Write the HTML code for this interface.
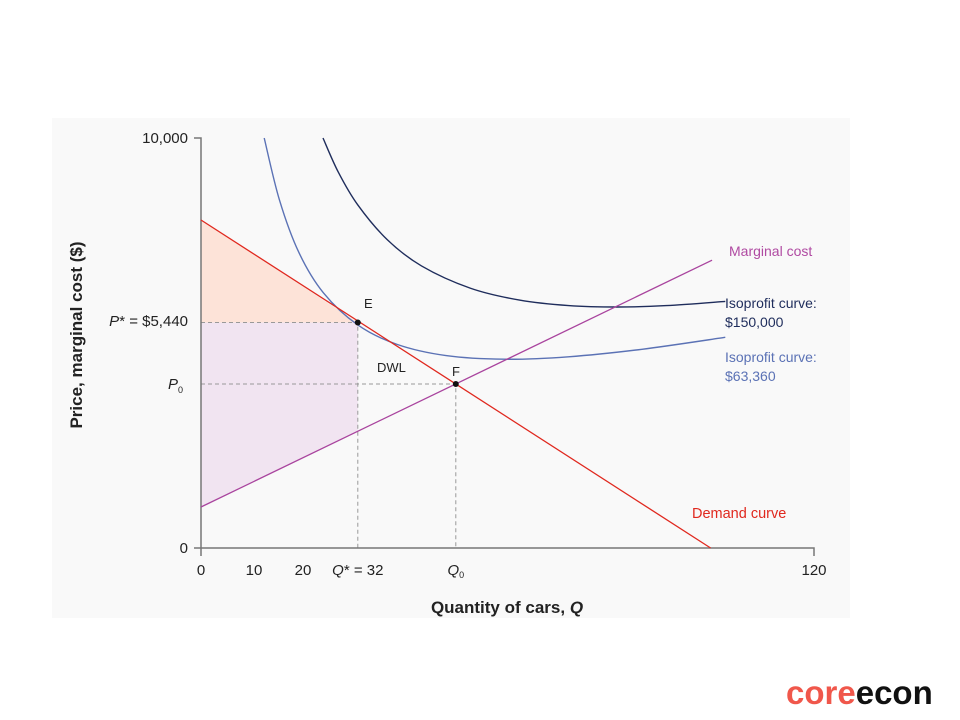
<!DOCTYPE html>
<html><head><meta charset="utf-8"><style>
body{margin:0;background:#fff;width:960px;height:720px;overflow:hidden;font-family:"Liberation Sans",sans-serif}
svg{position:absolute;left:0;top:0}
text{font-family:"Liberation Sans",sans-serif}
</style></head><body>
<svg id="chart" width="960" height="720">
<rect x="52" y="118" width="798" height="500" fill="#f9f9f9"/>
</svg>
<script>
const qTicks=[0,10,20];
const qTickLabels=["0","10","20"];
const demandQ=[0,104];
const demandP=[8000,0];
const mcQ=[0,104.3];
const mcP=[1000,7020];
const iso1Q=[12.9,16,20,25,32,40,50,62,75,90,107];
const iso1P=[10000,8493,7202,6221,5440,4966,4693,4604,4664,4847,5138];
const iso2Q=[24.9,28,32,38,45,55,65,75,85,95,107];
const iso2P=[10000,9172,8367,7522,6880,6336,6047,5913,5878,5912,6014];
const pointE=[32,5500];
const pointF=[52,4000];
const mcAtQstar=2846;

const X=q=>201+q*4.9;
const Y=p=>548-p*0.041;
const svg=document.getElementById('chart');
const NS='http://www.w3.org/2000/svg';
function mk(tag,attrs,txt){const e=document.createElementNS(NS,tag);for(const k in attrs)e.setAttribute(k,attrs[k]);if(txt!==undefined)e.textContent=txt;svg.appendChild(e);return e;}
function smooth(qs,ps){const pts=qs.map((q,i)=>[X(q),Y(ps[i])]);let d='M'+pts[0][0]+','+pts[0][1];
for(let i=0;i<pts.length-1;i++){const p0=pts[i-1]||pts[i],p1=pts[i],p2=pts[i+1],p3=pts[i+2]||p2;
const c1=[p1[0]+(p2[0]-p0[0])/6,p1[1]+(p2[1]-p0[1])/6],c2=[p2[0]-(p3[0]-p1[0])/6,p2[1]-(p3[1]-p1[1])/6];
d+=' C'+c1+' '+c2+' '+p2;}return d;}

let e;
e=mk('polygon',{points:[[X(0),Y(demandP[0])],[X(pointE[0]),Y(pointE[1])],[X(0),Y(pointE[1])]].join(' '),fill:'#fde3d8'});


e=mk('polygon',{points:[[X(0),Y(pointE[1])],[X(pointE[0]),Y(pointE[1])],[X(pointE[0]),Y(mcAtQstar)],[X(0),Y(mcP[0])]].join(' '),fill:'#f1e4f1'});



e=mk('path',{d:`M${X(0)},${Y(pointE[1])}H${X(pointE[0])}V${Y(0)}M${X(0)},${Y(pointF[1])}H${X(pointF[0])}V${Y(0)}`,stroke:'#999','stroke-dasharray':'4,3',fill:'none'});



e=mk('path',{d:`M194,${Y(10000)}H201V${Y(0)}H814V556M194,${Y(0)}H201V556`,stroke:'#777','stroke-width':1.5,fill:'none'});



e=mk('path',{d:smooth(iso2Q,iso2P),stroke:'#1f2d5c','stroke-width':1.4,fill:'none'});


e=mk('path',{d:smooth(iso1Q,iso1P),stroke:'#5b72b5','stroke-width':1.4,fill:'none'});


e=mk('line',{x1:X(mcQ[0]),y1:Y(mcP[0]),x2:X(mcQ[1]),y2:Y(mcP[1]),stroke:'#a9449e','stroke-width':1.3});


e=mk('line',{x1:X(demandQ[0]),y1:Y(demandP[0]),x2:X(demandQ[1]),y2:Y(demandP[1]),stroke:'#e0281e','stroke-width':1.3});



e=mk('circle',{cx:X(pointE[0]),cy:Y(pointE[1]),r:3,fill:'#111'});


e=mk('circle',{cx:X(pointF[0]),cy:Y(pointF[1]),r:3,fill:'#111'});



qTicks.forEach((q,i)=>{const t=mk('text',{x:X(q)+(q?4:0),y:575,'font-size':15,'text-anchor':'middle',fill:'#222'},qTickLabels[i]);

});
function lab(x,y,s,name,attrs){const t=mk('text',Object.assign({x:x,y:y,'font-size':14,fill:'#222'},attrs||{}));t.innerHTML=s;

return t;}
lab(814,575,'120','x-tick-120',{'text-anchor':'middle','font-size':15});
lab(X(pointE[0]),575,'<tspan font-style="italic">Q</tspan>* = 32','x-tick-qstar',{'text-anchor':'middle','font-size':15});
lab(X(pointF[0]),575,'<tspan font-style="italic">Q</tspan><tspan font-size="9" dy="3">0</tspan>','x-tick-q0',{'text-anchor':'middle','font-size':15});
lab(188,143,'10,000','y-tick-10000',{'text-anchor':'end','font-size':15});
lab(188,553,'0','y-tick-0',{'text-anchor':'end','font-size':15});
lab(188,326,'<tspan font-style="italic">P</tspan>* = $5,440','y-tick-pstar',{'text-anchor':'end','font-size':15});
lab(183,389,'<tspan font-style="italic">P</tspan><tspan font-size="9" dy="4">0</tspan>','y-tick-p0',{'text-anchor':'end','font-size':15});
lab(507,613,'Quantity of cars, <tspan font-style="italic">Q</tspan>','x-axis-title',{'text-anchor':'middle','font-size':17,'font-weight':'bold'});
lab(0,0,'Price, marginal cost ($)','y-axis-title',{'text-anchor':'middle','font-size':17,'font-weight':'bold',transform:'translate(82,335) rotate(-90)'});
lab(364,308,'E','label-e',{'font-size':13});
lab(452,376,'F','label-f',{'font-size':13});
lab(377,372,'DWL','label-dwl',{'font-size':13});
lab(729,256,'Marginal cost','label-marginal-cost',{fill:'#b04aa2'});
lab(725,308,'Isoprofit curve:','label-iso150-1',{fill:'#1f2d5c'});
lab(725,327,'$150,000','label-iso150-2',{fill:'#1f2d5c'});
lab(725,362,'Isoprofit curve:','label-iso63-1',{fill:'#5b72b5'});
lab(725,381,'$63,360','label-iso63-2',{fill:'#5b72b5'});
lab(692,518,'Demand curve','label-demand',{fill:'#e0281e','font-size':14.5});
lab(786,704,'<tspan fill="#f0574b">core</tspan><tspan fill="#111">econ</tspan>','coreecon-logo',{'font-size':33,'font-weight':'bold'});
</script>
</body></html>
